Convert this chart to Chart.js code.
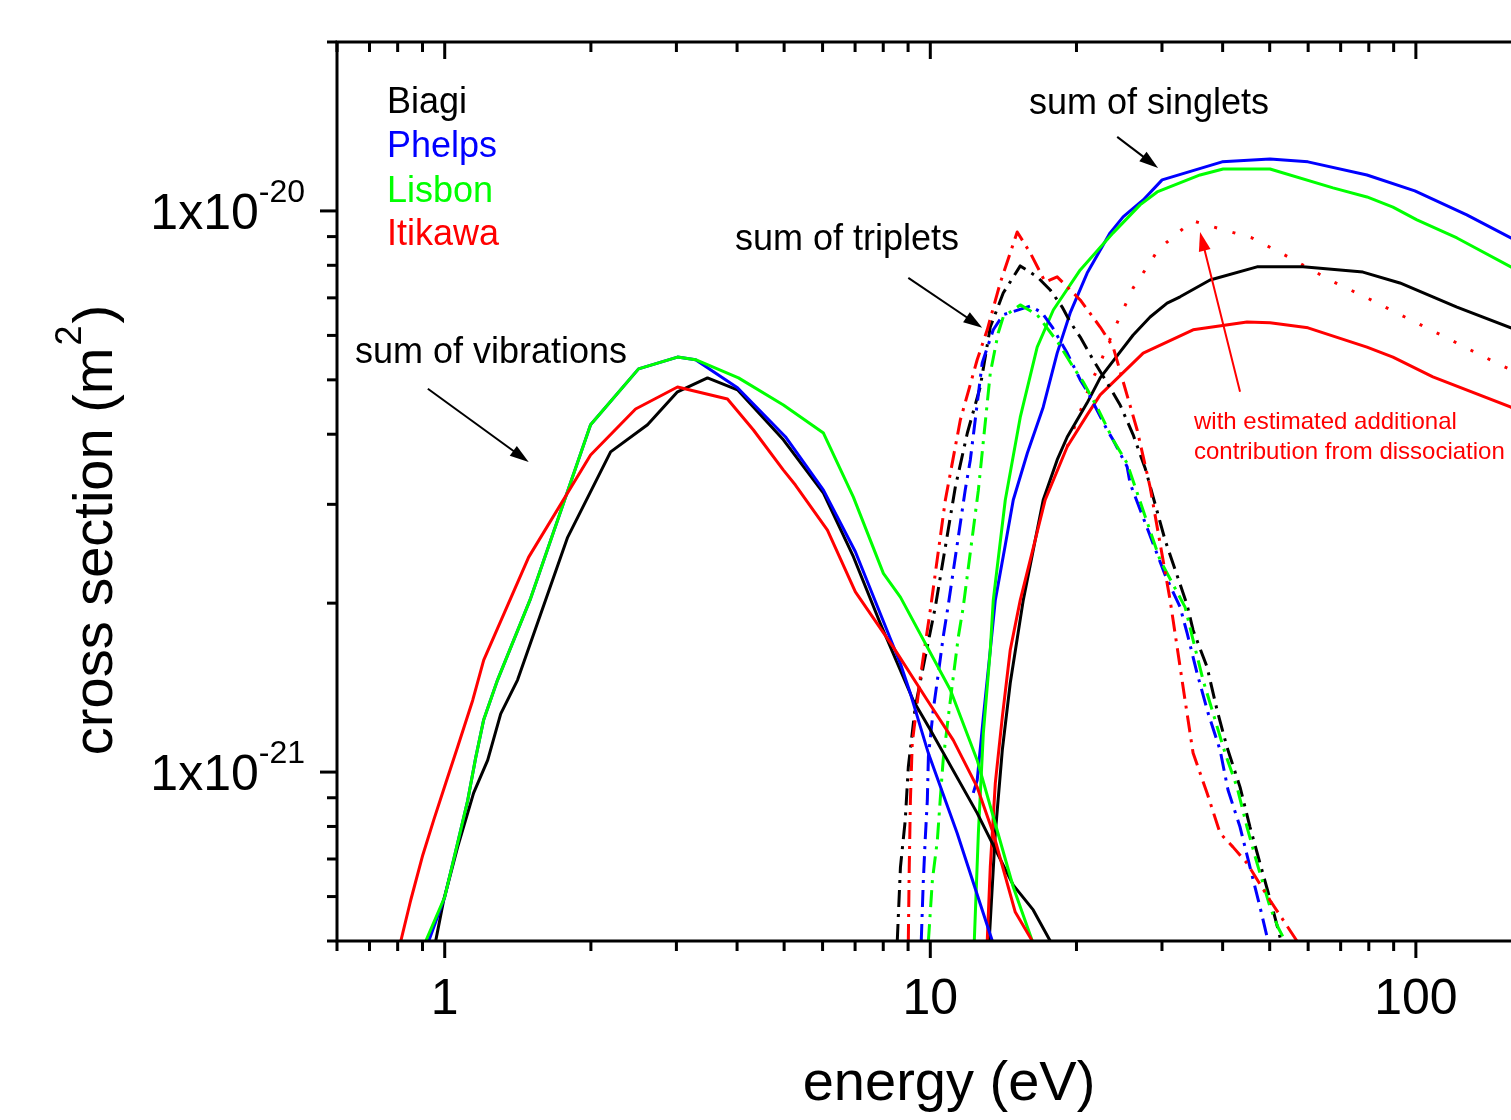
<!DOCTYPE html>
<html>
<head>
<meta charset="utf-8">
<script src="https://cdn.jsdelivr.net/npm/chart.js@4/dist/chart.umd.min.js"></script>
<style>
html,body{margin:0;padding:0;background:#fff;overflow:hidden}
#wrap{width:1511px;height:1120px;position:relative}
canvas{display:block}
</style>
</head>
<body>
<div id="wrap"><canvas id="c" width="1511" height="1120"></canvas></div>
<script>
// ---------------- data (energy in eV, cross section in m^2) ----------------
// sum of vibrations
const vibBiagiE   = [0.958,0.995,1.063,1.147,1.226,1.304,1.413,1.791,2.196,2.616,3.016,3.477,4.008,4.983,6.025,6.944,7.89,9.23,10.0,12.49,14.82,16.29,17.66];
const vibBiagi    = [5.0e-22,5.91e-22,7.35e-22,9.18e-22,1.05e-21,1.27e-21,1.46e-21,2.62e-21,3.72e-21,4.16e-21,4.76e-21,5.04e-21,4.80e-21,3.91e-21,3.14e-21,2.42e-21,1.84e-21,1.34e-21,1.19e-21,8.45e-22,6.29e-22,5.68e-22,5.0e-22];
const vibPhelpsE  = [0.927,1.0,1.063,1.115,1.158,1.203,1.285,1.503,1.997,2.507,3.016,3.285,4.008,5.03,6.025,7.01,8.68,9.1,9.91,11.36,13.42];
const vibPhelps   = [5.0e-22,5.99e-22,7.47e-22,8.9e-22,1.06e-21,1.24e-21,1.46e-21,2.04e-21,4.16e-21,5.23e-21,5.49e-21,5.43e-21,4.84e-21,3.96e-21,3.18e-21,2.47e-21,1.56e-21,1.38e-21,1.08e-21,7.78e-22,5.0e-22];
const vibLisbonE  = [0.914,1.0,1.063,1.115,1.158,1.203,1.285,1.503,1.997,2.507,3.016,3.285,4.027,4.983,6.025,6.944,8.005,8.678,11.0,12.49,14.82,16.22];
const vibLisbon   = [5.0e-22,5.99e-22,7.47e-22,8.9e-22,1.06e-21,1.24e-21,1.46e-21,2.04e-21,4.16e-21,5.23e-21,5.49e-21,5.43e-21,5.04e-21,4.51e-21,4.02e-21,3.09e-21,2.26e-21,2.05e-21,1.40e-21,1.05e-21,6.24e-22,5.0e-22];
const vibItikawaE = [0.812,0.851,0.901,0.949,1.005,1.063,1.142,1.203,1.489,1.997,2.472,3.016,3.822,4.323,4.983,5.275,6.14,7.01,8.39,9.86,11.15,12.49,13.48,14.96,16.22];
const vibItikawa  = [5.0e-22,5.91e-22,7.11e-22,8.21e-22,9.56e-22,1.108e-21,1.343e-21,1.583e-21,2.416e-21,3.673e-21,4.437e-21,4.856e-21,4.622e-21,4.07e-21,3.453e-21,3.247e-21,2.70e-21,2.094e-21,1.67e-21,1.343e-21,1.14e-21,9.4e-22,7.78e-22,5.63e-22,5.0e-22];

// sum of triplets
const tripBiagiE   = [8.55,8.68,8.88,9.01,9.31,9.76,10.24,11.26,11.92,12.67,13.29,14.13,15.32,16.6,17.66,18.69,19.41,20.36,21.64,23.13,24.6,26.17,27.7,30.45,33.8,34.77,37.15,38.95,40.83,43.44,45.54,47.75,50.8,52.75];
const tripBiagi    = [5.0e-22,6.77e-22,8.21e-22,1.021e-21,1.305e-21,1.603e-21,1.968e-21,3.22e-21,4.02e-21,4.856e-21,6.21e-21,7.14e-21,7.98e-21,7.63e-21,7.23e-21,6.74e-21,6.34e-21,5.96e-21,5.43e-21,4.94e-21,4.51e-21,3.99e-21,3.48e-21,2.59e-21,1.985e-21,1.79e-21,1.539e-21,1.29e-21,1.108e-21,9.40e-22,7.98e-22,6.88e-22,5.68e-22,5.0e-22];
const tripPhelpsE  = [9.58,9.67,9.76,9.86,9.91,10.14,10.39,10.63,10.89,11.8,12.09,12.79,13.48,14.13,16.06,17.0,17.83,19.14,20.36,21.14,23.13,23.8,25.43,25.79,30.45,32.69,33.8,35.43,37.33,39.52,41.03,43.44,45.54,47.75,49.6];
const tripPhelps   = [5.0e-22,6.34e-22,7.56e-22,8.91e-22,1.064e-21,1.29e-21,1.501e-21,1.74e-21,1.985e-21,3.18e-21,3.6e-21,5.36e-21,6.14e-21,6.53e-21,6.77e-21,6.58e-21,6.21e-21,5.58e-21,5.0e-21,4.74e-21,4.07e-21,3.906e-21,3.50e-21,3.27e-21,2.245e-21,1.968e-21,1.769e-21,1.501e-21,1.274e-21,1.094e-21,9.29e-22,7.98e-22,6.77e-22,5.75e-22,5.0e-22];
const tripLisbonE  = [9.91,10.1,10.34,10.48,10.63,10.89,11.15,11.42,11.69,12.56,13.29,13.8,14.13,15.32,16.6,18.34,19.69,20.64,22.06,23.8,25.43,29.73,33.47,34.77,36.45,38.22,40.46,42.82,44.9,47.08,50.07,52.0,53.8];
const tripLisbon   = [5.0e-22,6.42e-22,7.56e-22,8.91e-22,1.051e-21,1.253e-21,1.477e-21,1.74e-21,1.968e-21,3.18e-21,5.14e-21,6.06e-21,6.47e-21,6.8e-21,6.53e-21,5.82e-21,5.27e-21,4.96e-21,4.47e-21,3.906e-21,3.55e-21,2.386e-21,1.968e-21,1.719e-21,1.459e-21,1.274e-21,1.081e-21,9.4e-22,7.98e-22,6.88e-22,5.75e-22,5.29e-22,5.0e-22];
const tripItikawaE = [9.01,9.05,9.10,9.18,9.54,10.0,10.74,11.53,12.49,13.1,13.93,15.1,16.06,17.24,18.25,20.36,22.38,23.8,26.67,28.36,31.18,33.47,34.77,37.15,39.52,42.03,44.9,50.07,56.9];
const tripItikawa  = [5.0e-22,6.77e-22,8.91e-22,1.126e-21,1.477e-21,1.944e-21,3.054e-21,4.24e-21,5.43e-21,6.14e-21,7.44e-21,9.17e-21,8.42e-21,7.47e-21,7.63e-21,6.94e-21,6.21e-21,5.72e-21,4.07e-21,3.22e-21,2.025e-21,1.343e-21,1.081e-21,9.18e-22,7.78e-22,7.35e-22,6.88e-22,5.91e-22,5.0e-22];

// sum of singlets
const singBiagiE   = [13.22,13.61,14.07,14.61,15.54,17.08,18.25,19.14,21.04,22.38,24.6,26.17,28.36,30.74,32.69,37.68,47.08,58.55,77.8,92.7,121.5,156.9,160];
const singBiagi    = [5.0e-22,7.78e-22,1.094e-21,1.441e-21,2.025e-21,3.054e-21,3.6e-21,3.955e-21,4.55e-21,5.04e-21,5.61e-21,6.01e-21,6.47e-21,6.85e-21,7.03e-21,7.53e-21,7.95e-21,7.95e-21,7.78e-21,7.44e-21,6.74e-21,6.19e-21,6.15e-21];
const singPhelpsE  = [12.26,12.49,12.86,13.29,13.61,14.27,14.82,15.84,17.08,18.25,19.41,21.04,23.46,24.95,27.44,30.02,39.9,50.07,59.95,79.3,99.5,127.3,156.9,160];
const singPhelps   = [9.18e-22,9.67e-22,1.253e-21,1.65e-21,2.025e-21,2.54e-21,3.054e-21,3.70e-21,4.47e-21,5.58e-21,6.58e-21,7.75e-21,9.14e-21,9.76e-21,1.046e-20,1.136e-20,1.223e-20,1.238e-20,1.223e-20,1.159e-20,1.086e-20,9.84e-21,8.95e-21,8.9e-21];
const singLisbonE  = [12.32,12.56,12.86,13.29,13.48,14.27,15.32,16.6,17.92,20.36,23.8,27.04,29.32,35.94,40.09,50.07,67.5,79.3,89.7,100.5,121.5,156.9,160];
const singLisbon   = [5.0e-22,7.78e-22,1.173e-21,1.65e-21,2.025e-21,3.054e-21,4.29e-21,5.72e-21,6.66e-21,7.85e-21,9.14e-21,1.025e-20,1.081e-20,1.159e-20,1.188e-20,1.188e-20,1.099e-20,1.059e-20,1.016e-20,9.64e-21,8.95e-21,7.95e-21,7.85e-21];
const singItikawaE = [13.1,13.29,13.61,14.07,14.61,15.32,17.24,19.14,21.04,22.38,27.44,34.77,44.9,50.07,59.95,79.3,89.7,108.4,156.9,160];
const singItikawa  = [5.0e-22,6.77e-22,9.56e-22,1.253e-21,1.65e-21,2.025e-21,3.054e-21,3.80e-21,4.33e-21,4.70e-21,5.58e-21,6.14e-21,6.34e-21,6.32e-21,6.19e-21,5.72e-21,5.49e-21,5.06e-21,4.47e-21,4.43e-21];
// Itikawa singlets with estimated additional contribution from dissociation
const singDissE    = [19.14,21.34,22.38,24.03,26.17,27.7,29.45,31.92,34.77,38.22,46.0,55.06,66.5,79.3,94.9,113.6,137.3,156.9,160];
const singDiss     = [3.80e-21,4.9e-21,5.36e-21,6.21e-21,7.29e-21,7.85e-21,8.52e-21,9.06e-21,9.60e-21,9.37e-21,8.95e-21,8.25e-21,7.53e-21,7.0e-21,6.47e-21,5.99e-21,5.51e-21,5.21e-21,5.17e-21];

// axes
const xMin = 0.6, xMax = 157;
const yMin = 5e-22, yMax = 2e-20;
const xMajorTicks = [1, 10, 100];
const xMajorLabels = ['1', '10', '100'];
const xMinorTicks = [0.6,0.7,0.8,0.9,2,3,4,5,6,7,8,9,20,30,40,50,60,70,80,90];
const yMajorTicks = [1e-21, 1e-20];
const yMajorMant = ['1x10', '1x10'];
const yMajorExp = ['-21', '-20'];
const yMinorTicks = [5e-22,6e-22,7e-22,8e-22,9e-22,2e-21,3e-21,4e-21,5e-21,6e-21,7e-21,8e-21,9e-21,2e-20];

// annotation arrows (data coordinates: [energy, cross section])
const arrowVib  = [[0.923, 4.82e-21], [1.489, 3.57e-21]];
const arrowTrip = [[9.01, 7.6e-21], [12.79, 6.19e-21]];
const arrowSing = [[24.26, 1.355e-20], [29.45, 1.193e-20]];
const arrowDiss = [[43.44, 4.76e-21], [35.94, 9.17e-21]];

// ---------------- styles ----------------
const FONT = '"Liberation Sans", Arial, Helvetica, sans-serif';
const BLACK = '#000000', BLUE = '#0000ff', GREEN = '#00ff00', RED = '#ff0000';
const DASHDOT = [17, 7, 3, 7];
const DOTS = [3, 16];

function pts(E, S) { return E.map((e, i) => ({x: e, y: S[i]})); }
function ds(E, S, color, dash) {
  return {
    data: pts(E, S), borderColor: color, borderWidth: 3, borderDash: dash || [],
    pointRadius: 0, tension: 0, fill: false, borderJoinStyle: 'round', borderCapStyle: 'butt'
  };
}

const datasets = [
  ds(vibItikawaE, vibItikawa, RED),
  ds(vibLisbonE, vibLisbon, GREEN),
  ds(vibPhelpsE, vibPhelps, BLUE),
  ds(vibBiagiE, vibBiagi, BLACK),
  ds(tripItikawaE, tripItikawa, RED, DASHDOT),
  ds(tripLisbonE, tripLisbon, GREEN, DASHDOT),
  ds(tripPhelpsE, tripPhelps, BLUE, DASHDOT),
  ds(tripBiagiE, tripBiagi, BLACK, DASHDOT),
  ds(singItikawaE, singItikawa, RED),
  ds(singLisbonE, singLisbon, GREEN),
  ds(singPhelpsE, singPhelps, BLUE),
  ds(singBiagiE, singBiagi, BLACK),
  ds(singDissE, singDiss, RED, DOTS)
];

function arrow(ctx, x1, y1, x2, y2, color, lw, hl, hw) {
  const a = Math.atan2(y2 - y1, x2 - x1), c = Math.cos(a), s = Math.sin(a);
  const bx = x2 - hl * c, by = y2 - hl * s;
  ctx.strokeStyle = color; ctx.fillStyle = color; ctx.lineWidth = lw; ctx.setLineDash([]);
  ctx.beginPath(); ctx.moveTo(x1, y1); ctx.lineTo(bx + 2 * c, by + 2 * s); ctx.stroke();
  ctx.beginPath(); ctx.moveTo(x2, y2);
  ctx.lineTo(bx + hw * s, by - hw * c); ctx.lineTo(bx - hw * s, by + hw * c);
  ctx.closePath(); ctx.fill();
}

const decor = {
  id: 'decor',
  afterDatasetsDraw(chart) {
    const {ctx, chartArea: a, scales: {x, y}} = chart;
    ctx.save();
    const P = p => [x.getPixelForValue(p[0]), y.getPixelForValue(p[1])];
    // arrows
    [arrowVib, arrowTrip, arrowSing].forEach(ar => {
      const p1 = P(ar[0]), p2 = P(ar[1]);
      arrow(ctx, p1[0], p1[1], p2[0], p2[1], BLACK, 2, 19, 6);
    });
    { const p1 = P(arrowDiss[0]), p2 = P(arrowDiss[1]); arrow(ctx, p1[0], p1[1], p2[0], p2[1], RED, 2, 19, 6); }

    // texts
    ctx.textAlign = 'left'; ctx.textBaseline = 'alphabetic';
    ctx.font = '36px ' + FONT;
    [['Biagi', BLACK, 113], ['Phelps', BLUE, 157], ['Lisbon', GREEN, 202], ['Itikawa', RED, 245]]
      .forEach(([t, c, yy]) => { ctx.fillStyle = c; ctx.fillText(t, 387, yy); });
    ctx.fillStyle = BLACK;
    ctx.fillText('sum of singlets', 1029, 114);
    ctx.fillText('sum of triplets', 735, 250);
    ctx.fillText('sum of vibrations', 355, 363);
    ctx.font = '24px ' + FONT; ctx.fillStyle = RED;
    ctx.fillText('with estimated additional', 1194, 429);
    ctx.fillText('contribution from dissociation', 1194, 459);

    // frame
    ctx.strokeStyle = BLACK; ctx.lineWidth = 3; ctx.setLineDash([]); ctx.lineCap = 'square';
    ctx.beginPath();
    ctx.moveTo(a.left, a.top); ctx.lineTo(a.right + 5, a.top);
    ctx.moveTo(a.left, a.top); ctx.lineTo(a.left, a.bottom);
    ctx.moveTo(a.left, a.bottom); ctx.lineTo(a.right + 5, a.bottom);
    ctx.stroke();
    ctx.lineCap = 'butt';
    // ticks
    const tick = (vals, len) => {
      vals.forEach(v => {
        const px = x.getPixelForValue(v);
        if (px > a.right + 2) return;
        ctx.beginPath();
        ctx.moveTo(px, a.bottom); ctx.lineTo(px, a.bottom + len);
        ctx.moveTo(px, a.top); ctx.lineTo(px, a.top + len);
        ctx.stroke();
      });
    };
    tick(xMajorTicks, 17); tick(xMinorTicks, 10);
    const ytick = (vals, len) => {
      vals.forEach(v => {
        const py = y.getPixelForValue(v);
        ctx.beginPath(); ctx.moveTo(a.left, py); ctx.lineTo(a.left - len, py); ctx.stroke();
      });
    };
    ytick(yMajorTicks, 17); ytick(yMinorTicks, 10);

    // tick labels
    ctx.fillStyle = BLACK;
    ctx.font = '50px ' + FONT; ctx.textAlign = 'center';
    xMajorTicks.forEach((v, i) => ctx.fillText(xMajorLabels[i], x.getPixelForValue(v), a.bottom + 73));
    yMajorTicks.forEach((v, i) => {
      const py = y.getPixelForValue(v);
      ctx.font = '32px ' + FONT; const wE = ctx.measureText(yMajorExp[i]).width;
      ctx.font = '50px ' + FONT; const wM = ctx.measureText(yMajorMant[i]).width;
      const right = 305;
      ctx.textAlign = 'left';
      ctx.fillText(yMajorMant[i], right - wE - wM, py + 18);
      ctx.font = '32px ' + FONT;
      ctx.fillText(yMajorExp[i], right - wE, py - 9);
    });

    // axis titles
    ctx.font = '56px ' + FONT; ctx.textAlign = 'center';
    ctx.fillText('energy (eV)', 949, 1100);
    ctx.save();
    ctx.translate(112, 528); ctx.rotate(-Math.PI / 2);
    ctx.font = '56px ' + FONT; const w1 = ctx.measureText('cross section (m').width;
    ctx.font = '36px ' + FONT; const w2 = ctx.measureText('2').width;
    ctx.font = '56px ' + FONT; const w3 = ctx.measureText(')').width;
    let sx = -(w1 + w2 + w3) / 2 - 4;
    ctx.textAlign = 'left';
    ctx.fillText('cross section (m', sx, 0); sx += w1;
    ctx.font = '36px ' + FONT; ctx.fillText('2', sx + 2, -31); sx += w2 + 4;
    ctx.font = '56px ' + FONT; ctx.fillText(')', sx, 0);
    ctx.restore();
    ctx.restore();
  }
};

new Chart(document.getElementById('c'), {
  type: 'line',
  data: {datasets},
  options: {
    responsive: false, animation: false, devicePixelRatio: 1, events: [],
    layout: {padding: {left: 337, top: 42, right: 0, bottom: 179}},
    plugins: {legend: {display: false}, tooltip: {enabled: false}, title: {display: false}},
    scales: {
      x: {type: 'logarithmic', min: xMin, max: xMax, display: false},
      y: {type: 'logarithmic', min: yMin, max: yMax, display: false}
    }
  },
  plugins: [decor]
});
</script>
</body>
</html>
